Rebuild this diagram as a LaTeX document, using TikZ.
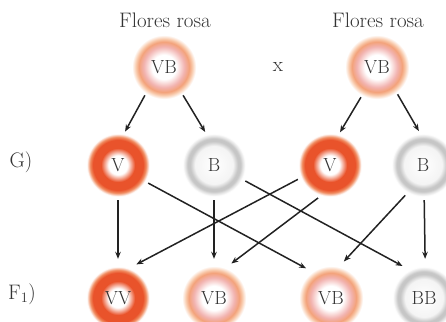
\documentclass[tikz,border=0pt]{standalone}
\usetikzlibrary{arrows.meta}
\definecolor{vred}{HTML}{E9532B}
\definecolor{vedge}{HTML}{F08A5E}
\definecolor{vbpink}{HTML}{F2B3B0}
\definecolor{vbpeach}{HTML}{F3A27A}
\definecolor{vbedge}{HTML}{F8C6A6}
\definecolor{bgray}{HTML}{C6C6C6}
\definecolor{bin}{HTML}{F4F4F4}
\definecolor{bedge}{HTML}{E2E2E2}
\definecolor{txt}{HTML}{333333}
\definecolor{lin}{HTML}{222222}
\pgfdeclareradialshading{ringV}{\pgfpointorigin}{color(0bp)=(white); color(7bp)=(white); color(12.5bp)=(vred); color(18.5bp)=(vred); color(20.5bp)=(vedge); color(23bp)=(white); color(50bp)=(white)}
\pgfdeclareradialshading{ringVB}{\pgfpointorigin}{color(0bp)=(white); color(9bp)=(white); color(15bp)=(vbpink); color(18.5bp)=(vbpeach); color(20.5bp)=(vbedge); color(23.5bp)=(white); color(50bp)=(white)}
\pgfdeclareradialshading{ringB}{\pgfpointorigin}{color(0bp)=(white); color(14bp)=(bin); color(17.5bp)=(bgray); color(19.5bp)=(bgray); color(21bp)=(bedge); color(23bp)=(white); color(50bp)=(white)}
\begin{document}
\begin{tikzpicture}[x=1pt,y=-1pt,
  gbase/.style={circle, minimum size=68pt, inner sep=0pt, font=\fontsize{19}{21}\selectfont, text=txt},
  vnode/.style={gbase, shading=ringV},
  vbnode/.style={gbase, shading=ringVB},
  bnode/.style={gbase, shading=ringB},
  lab/.style={font=\fontsize{21}{24}\selectfont, text=txt, inner sep=0pt},
  conn/.style={draw=lin, line width=1.5pt, -{Stealth[length=7pt,width=5.5pt]}},
  fconn/.style={conn, shorten <=1pt, shorten >=5pt}
]
\useasboundingbox (0,0) rectangle (446,321);
% labels
\node[lab] (t1) at (165,20.5) {Flores rosa};
\node[lab] (t2) at (378,20.5) {Flores rosa};
\node[lab] (cross) at (278,67) {x};
\node[lab] (lg) at (21,162) {G)};
\node[lab] (lf) at (22,294) {F$_1$)};
% parents
\node[vbnode] (P1) at (164,67) {VB};
\node[vbnode] (P2) at (377,67) {VB};
% gametes
\node[vnode] (G1) at (118,165) {V};
\node[bnode] (G2) at (214,165) {B};
\node[vnode] (G3) at (330,165) {V};
\node[bnode] (G4) at (423,165) {B};
% F1
\node[vnode] (F1) at (118,298) {VV};
\node[vbnode] (F2) at (214,298) {VB};
\node[vbnode] (F3) at (331,298) {VB};
\node[bnode] (F4) at (424,298) {BB};
% connectors parents -> gametes
\draw[conn] (P1.236) -- (G1.78);
\draw[conn] (P1.304) -- (G2.105);
\draw[conn] (P2.242) -- (G3.73);
\draw[conn] (P2.307) -- (G4.97);
% gametes -> F1
\draw[fconn] (G1.270) -- (F1.90);
\draw[fconn] (G1.329) -- (F3.127);
\draw[fconn] (G2.270) -- (F2.90);
\draw[fconn] (G2.333) -- (F4.120);
\draw[fconn] (G3.204) -- (F1.66);
\draw[fconn] (G3.251) -- (F2.67);
\draw[fconn] (G4.240) -- (F3.74);
\draw[fconn] (G4.272) -- (F4.88);
\end{tikzpicture}
\end{document}
